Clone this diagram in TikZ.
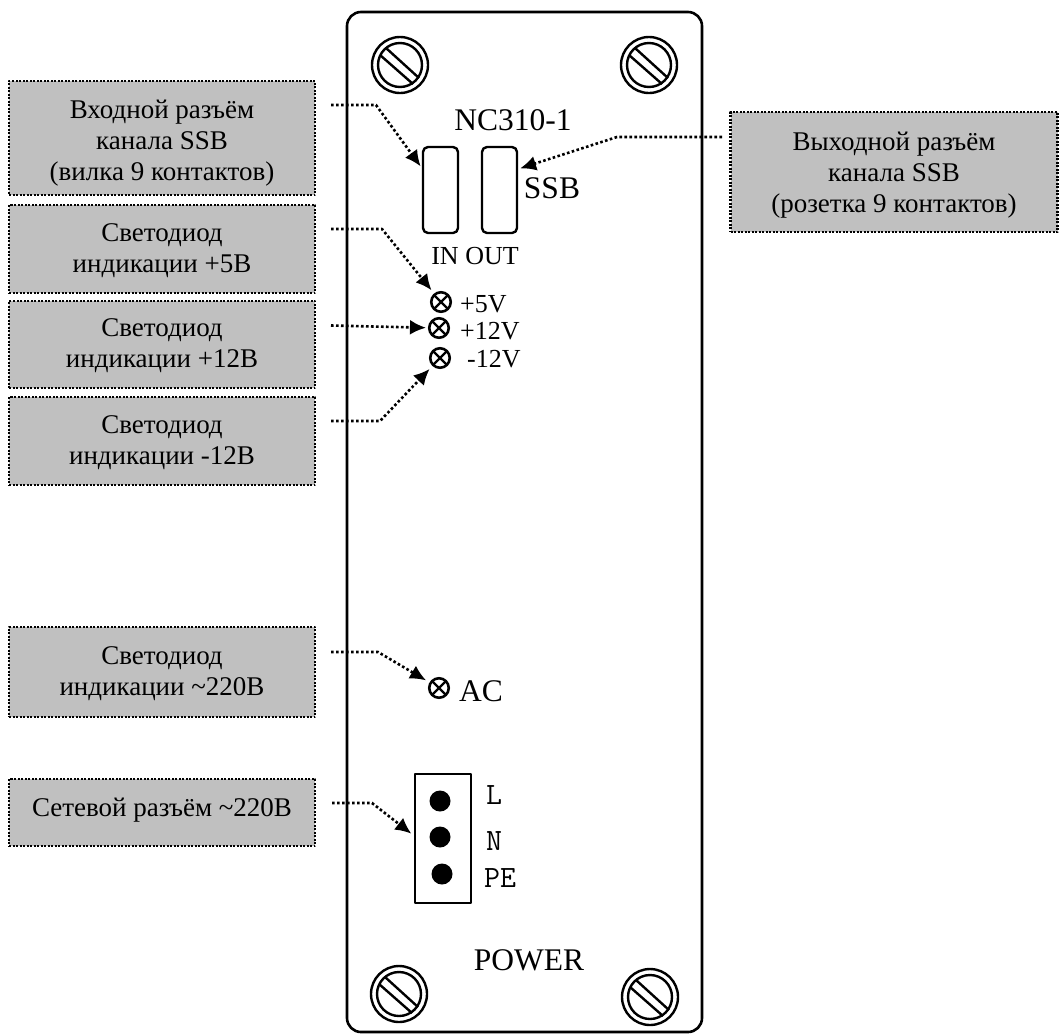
\documentclass[tikz,border=0pt]{standalone}
\usepackage{fontspec}
\setmainfont{Liberation Serif}
\usetikzlibrary{arrows.meta}
\definecolor{boxgray}{HTML}{C0C0C0}
\tikzset{
    infobox/.style={draw,fill=boxgray,line width=2.6pt,dash pattern=on 2pt off 1.5pt,inner sep=0pt},
    boxtext/.style={align=center,inner sep=0pt,font=\fontsize{27}{31}\selectfont},
    callout/.style={->,line width=2.6pt,dash pattern=on 2.6pt off 2.4pt},
    port/.style={draw,line width=2.4pt,rounded corners=5pt,minimum width=35pt,minimum height=86pt,inner sep=0pt},
    ledmark/.style={circle,draw,line width=2.6pt,minimum size=19.5pt,inner sep=0pt,path picture={
        \draw[line width=2.4pt] (path picture bounding box.south west) -- (path picture bounding box.north east);
        \draw[line width=2.4pt] (path picture bounding box.north west) -- (path picture bounding box.south east);}},
    pindot/.style={circle,fill=black,minimum size=21pt,inner sep=0pt},
    small/.style={font=\fontsize{26}{30}\selectfont,inner sep=0pt},
    big/.style={font=\fontsize{31.5}{36}\selectfont,inner sep=0pt},
    pinlabel/.style={font=\fontsize{31}{34}\ttfamily,inner sep=0pt},
}
\begin{document}
\begin{tikzpicture}[x=1pt,y=-1pt,>={Latex[length=16pt,width=15pt]},line join=round]
\useasboundingbox (0,0) rectangle (1059,1034);
\draw[line width=2.6pt,rounded corners=14pt] (347,12) rectangle (702,1032);
% screws
\foreach \x/\y in {400/65,649/65,399/994,650/997}{
    \draw[line width=2.4pt] (\x,\y) circle[radius=28];
    \draw[line width=2.4pt] (\x,\y) circle[radius=22];
    \draw[line width=2.4pt] (\x-14,\y-17) -- (\x+19,\y+13);
    \draw[line width=2.4pt] (\x-20,\y-10) -- (\x+13,\y+19);
}
% description boxes
\node[infobox,minimum width=306pt,minimum height=114pt] (inbox) at (162,138) {};
\node[infobox,minimum width=306pt,minimum height=88pt] (fivebox) at (162,249) {};
\node[infobox,minimum width=306pt,minimum height=87pt] (twelvebox) at (162,344.5) {};
\node[infobox,minimum width=306pt,minimum height=88pt] (minusbox) at (162,441) {};
\node[infobox,minimum width=306pt,minimum height=90pt] (acbox) at (162,672) {};
\node[infobox,minimum width=306pt,minimum height=67pt] (powerbox) at (162,812.5) {};
\node[infobox,minimum width=327pt,minimum height=120pt] (outbox) at (894,172) {};
\node[boxtext] (intext) at (162,143) {Входной разъём\\канала SSB\\(вилка 9 контактов)};
\node[boxtext] (fivetext) at (162,251) {Светодиод\\индикации +5В};
\node[boxtext] (twelvetext) at (162,346) {Светодиод\\индикации +12В};
\node[boxtext] (minustext) at (162,442.5) {Светодиод\\индикации -12В};
\node[boxtext] (actext) at (162,674) {Светодиод\\индикации \textasciitilde220В};
\node[boxtext] (powertext) at (162,810) {Сетевой разъём \textasciitilde220В};
\node[boxtext] (outtext) at (894,175) {Выходной разъём\\канала SSB\\(розетка 9 контактов)};
% front panel
\node[big] (title) at (513,120) {NC310-1};
\node[port] (inport) at (440.5,190) {};
\node[port] (outport) at (499.5,190) {};
\node[big] (ssb) at (552,188) {SSB};
\node[small] (inout) at (475,256) {IN OUT};
\node[ledmark] (ledfive) at (441,302) {};
\node[ledmark] (ledtwelve) at (439,328) {};
\node[ledmark] (ledminus) at (440,358) {};
\node[small,anchor=west] (fivev) at (460,304) {+5V};
\node[small,anchor=west] (twelvev) at (460,331) {+12V};
\node[small,anchor=west] (minusv) at (467,359) {-12V};
\node[ledmark] (ledac) at (439,688) {};
\node[big] (ac) at (481,691) {AC};
\node[draw,line width=2.6pt,minimum width=56pt,minimum height=129pt,inner sep=0pt] (socket) at (443,838.5) {};
\node[pindot] (pinl) at (440,801) {};
\node[pindot] (pinn) at (440,837) {};
\node[pindot] (pinpe) at (442,874) {};
\node[pinlabel] (labl) at (494,795) {L};
\node[pinlabel] (labn) at (494,841) {N};
\node[pinlabel] (labpe) at (500,878) {PE};
\node[big] (power) at (529,960) {POWER};
% callouts
\coordinate (inA) at (331,105);
\coordinate (inB) at (376,105);
\coordinate (fiveA) at (331,229);
\coordinate (fiveB) at (382,229);
\coordinate (twelveA) at (331,325.5);
\coordinate (minusA) at (331,421);
\coordinate (minusB) at (380,421);
\coordinate (acA) at (331,652);
\coordinate (acB) at (378,652);
\coordinate (powerA) at (332,803);
\coordinate (powerB) at (372,803);
\coordinate (outA) at (722,137);
\coordinate (outB) at (617,137);
\draw[callout,shorten >=2pt] (inA) -- (inB) -- ([yshift=22pt]inport.west);
\draw[callout,shorten >=2pt] (outA) -- (outB) -- ([yshift=21pt]outport.east);
\draw[callout,shorten >=4pt] (fiveA) -- (fiveB) -- (ledfive);
\draw[callout,shorten >=2pt] (twelveA) -- (ledtwelve);
\draw[callout,shorten >=4pt] (minusA) -- (minusB) -- (ledminus);
\draw[callout,shorten >=4pt] (acA) -- (acB) -- (ledac);
\draw[callout,shorten >=3pt] (powerA) -- (powerB) -- ([yshift=3pt]socket.west);
\end{tikzpicture}
\end{document}
